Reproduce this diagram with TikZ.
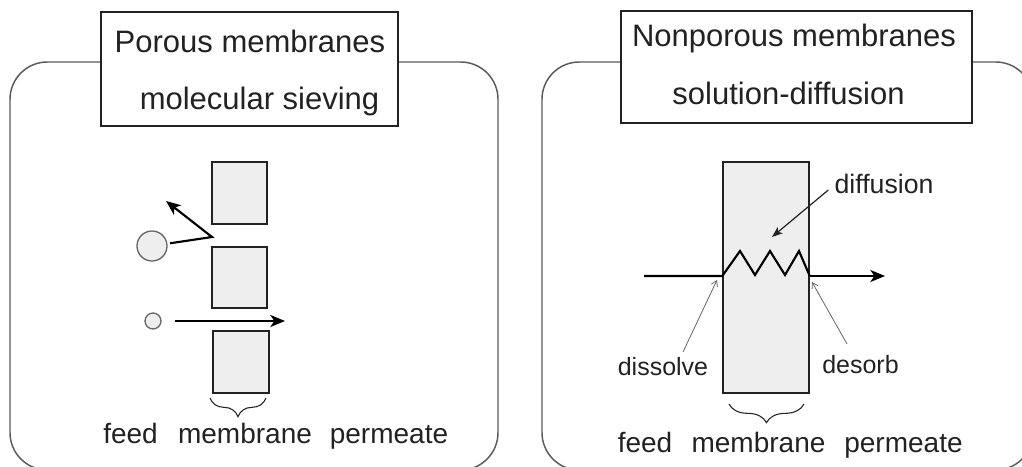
\documentclass[tikz,border=0pt]{standalone}
\usepackage{fontspec}
\setmainfont{Liberation Sans}
\usetikzlibrary{arrows.meta,decorations.pathreplacing}
\definecolor{ink}{HTML}{222222}
\definecolor{framegray}{HTML}{5A5A5A}
\definecolor{membfill}{HTML}{EEEEEE}
\definecolor{thingray}{HTML}{666666}
\begin{document}
\begin{tikzpicture}[x=0.75pt,y=-0.75pt,
  panel/.style={draw=framegray,line width=1.1pt,rounded corners=28pt},
  titlebox/.style={draw=ink,fill=white,line width=1.1pt,inner sep=0pt},
  titletext/.style={font=\fontsize{23.25pt}{28pt}\selectfont,text=ink,inner sep=0pt,anchor=base},
  axistext/.style={font=\fontsize{21pt}{25pt}\selectfont,text=ink,inner sep=0pt,anchor=base},
  notetext/.style={font=\fontsize{18.75pt}{22pt}\selectfont,text=ink,inner sep=0pt,anchor=base},
  porebox/.style={draw=ink,fill=membfill,line width=1.1pt,inner sep=0pt},
  molecule/.style={circle,draw=thingray,fill=membfill,line width=1pt,inner sep=0pt},
  flux/.style={draw=black,line width=1.6pt,line join=miter},
  fluxarrow/.style={flux,-{Stealth[length=11pt,width=9pt,inset=3pt]}},
  pointer/.style={draw=ink,line width=0.9pt,-{Stealth[length=8pt,width=6pt,inset=2pt]}},
  thinpointer/.style={draw=thingray,line width=0.6pt,-{Straight Barb[length=4pt,width=5pt]}},
  membbrace/.style={draw=ink,line width=0.8pt,decoration={brace,amplitude=14pt,aspect=0.5},decorate}]

\useasboundingbox (0,0) rectangle (1022,467);

% outer panels (their lower edges run just past the page)
\draw[panel] (10,62) rectangle (498,470);
\draw[panel] (542,62) rectangle (1033,470);

% title boxes
\node[titlebox,minimum width=222.75pt,minimum height=85.5pt] (ltitle) at (249.5,69) {};
\node[titletext] (lt1) at (250,53) {Porous membranes};
\node[titletext] (lt2) at (259.5,110) {molecular sieving};

\node[titlebox,minimum width=263.25pt,minimum height=84pt] (rtitle) at (796.5,67) {};
\node[titletext] (rt1) at (794,47) {Nonporous membranes};
\node[titletext] (rt2) at (788.5,105) {solution-diffusion};

% ---- porous membrane: molecular sieving ----
\node[porebox,minimum width=41.25pt,minimum height=46.5pt] (sq1) at (239.5,193) {};
\node[porebox,minimum width=41.25pt,minimum height=45.75pt] (sq2) at (239.5,277.5) {};
\node[porebox,minimum width=42pt,minimum height=46.5pt] (sq3) at (241,362) {};

\node[molecule,minimum size=22.5pt] (big) at (152,246) {};
\node[molecule,minimum size=12pt] (small) at (153,321) {};

\coordinate (bounce) at (212,237);
\coordinate (reflected) at (166,201);
\coordinate (passed) at (285,322);

\draw[fluxarrow,shorten <=2pt] (big) -- (bounce) -- (reflected);
\draw[fluxarrow,shorten <=16.5pt] (small.center) -- (passed |- small.center);

\coordinate (lb1) at (266,398);
\coordinate (lb2) at (210,398);
\draw[membbrace] (lb1) -- (lb2);

\node[axistext] (lfeed) at (130.5,443) {feed};
\node[axistext] (lmemb) at (245,443) {membrane};
\node[axistext] (lperm) at (389,443) {permeate};

% ---- nonporous membrane: solution-diffusion ----
\node[porebox,minimum width=64.5pt,minimum height=173.25pt] (memb) at (766,277.5) {};

\coordinate (fin) at (644,276);
\coordinate (fout) at (885,276);
\draw[flux] (fin) -- (memb.west |- fin) -- (740,251) -- (755,275) -- (770,251)
  -- (785,275) -- (799,251) -- (memb.east |- fin);
\draw[fluxarrow] (memb.east |- fin) -- (fout);

\node[notetext,font=\fontsize{20pt}{24pt}\selectfont] (diff) at (884,193) {diffusion};
\coordinate (difftip) at (772,237);
\draw[pointer] ([xshift=-4.5pt,yshift=2.25pt]diff.base west) -- (difftip);

\node[notetext] (dissolve) at (663,375) {dissolve};
\node[notetext] (desorb) at (860.5,373) {desorb};
\coordinate (dsvfrom) at (683,352);
\coordinate (dsvtip) at (717,280);
\coordinate (dsbfrom) at (847,344);
\coordinate (dsbtip) at (812,282);
\draw[thinpointer] (dsvfrom) -- (dsvtip);
\draw[thinpointer] (dsbfrom) -- (dsbtip);

\coordinate (rb1) at (804,404);
\coordinate (rb2) at (729,404);
\draw[membbrace] (rb1) -- (rb2);

\node[axistext] (rfeed) at (645,452) {feed};
\node[axistext] (rmemb) at (758.5,452) {membrane};
\node[axistext] (rperm) at (903.5,452) {permeate};

\end{tikzpicture}
\end{document}
